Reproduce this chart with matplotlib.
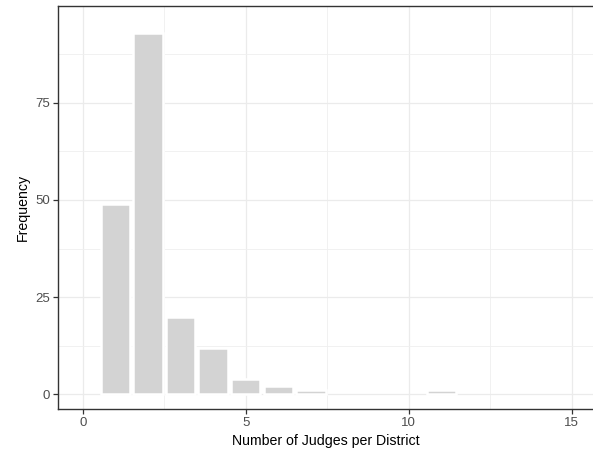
# Histogram of judges per district, ggplot theme_bw look
import matplotlib
matplotlib.use('Agg')
import matplotlib.pyplot as plt
from matplotlib.ticker import MultipleLocator

judges = [1, 2, 3, 4, 5, 6, 7, 11]
frequency = [49, 93, 20, 12, 4, 2, 1, 1]
x_ticks = [0, 5, 10, 15]
y_ticks = [0, 25, 50, 75]

plt.rcParams['font.family'] = ['Liberation Sans', 'DejaVu Sans']

fig = plt.figure(figsize=(5.93, 4.63), dpi=100)
ax = fig.add_axes([0.0983, 0.1166, 0.9017, 0.8704])

ax.bar(judges, frequency, width=0.9, color='#D3D3D3', edgecolor='white',
       linewidth=1.8, zorder=3)

ax.set_xlim(-0.75, 15.65)
ax.set_ylim(-3.8, 99.9)
ax.set_xticks(x_ticks)
ax.set_yticks(y_ticks)
ax.xaxis.set_minor_locator(MultipleLocator(2.5))
ax.yaxis.set_minor_locator(MultipleLocator(12.5))

ax.grid(which='major', color='#EBEBEB', linewidth=0.9, zorder=0)
ax.grid(which='minor', color='#EFEFEF', linewidth=0.6, zorder=0)
ax.set_axisbelow(True)

for side in ['left', 'bottom', 'top']:
    ax.spines[side].set_color('#333333')
    ax.spines[side].set_linewidth(1.0)
ax.spines['right'].set_visible(False)

ax.tick_params(which='major', length=3.5, width=0.9, color='#333333',
               labelcolor='#4D4D4D', labelsize=9.5, pad=2.5)
ax.tick_params(which='minor', length=0)

ax.set_xlabel('Number of Judges per District', fontsize=10.2,
              color='black', labelpad=3)
ax.set_ylabel('Frequency', fontsize=10.2, color='black', labelpad=4)

fig.savefig('out.png', dpi=100)
